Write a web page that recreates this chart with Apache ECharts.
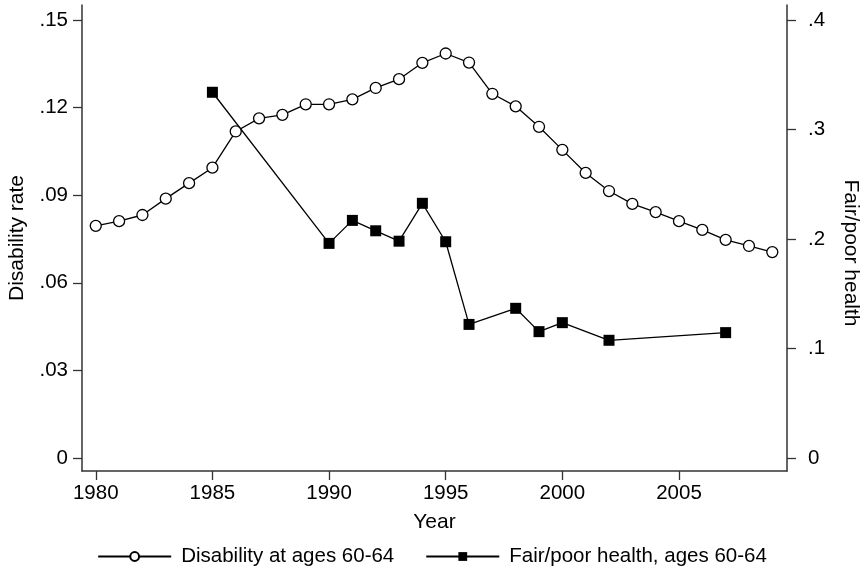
<!DOCTYPE html>
<html>
<head>
<meta charset="utf-8">
<script src="https://cdn.jsdelivr.net/npm/echarts@6/dist/echarts.min.js"></script>
<style>
  html, body { margin: 0; padding: 0; background: #fff; }
  #chart { width: 864px; height: 578px; }
</style>
</head>
<body>
<div id="chart"></div>
<script>
// Disability rate at ages 60-64, yearly 1980-2009 (left axis)
const disabilityYears = [1980, 1981, 1982, 1983, 1984, 1985, 1986, 1987, 1988, 1989,
  1990, 1991, 1992, 1993, 1994, 1995, 1996, 1997, 1998, 1999,
  2000, 2001, 2002, 2003, 2004, 2005, 2006, 2007, 2008, 2009];
const disabilityRate = [0.0795, 0.0811, 0.0832, 0.0888, 0.0941, 0.0994, 0.1118, 0.1163, 0.1175, 0.1211,
  0.1211, 0.1228, 0.1267, 0.1297, 0.1353, 0.1385, 0.1354, 0.1247, 0.1204, 0.1134,
  0.1055, 0.0976, 0.0914, 0.0870, 0.0842, 0.0811, 0.0781, 0.0747, 0.0726, 0.0705];

// Share reporting fair/poor health at ages 60-64, survey years only (right axis)
const healthYears = [1985, 1990, 1991, 1992, 1993, 1994, 1995, 1996, 1998, 1999, 2000, 2002, 2007];
const fairPoorHealth = [0.334, 0.196, 0.217, 0.2075, 0.198, 0.2326, 0.1975, 0.122, 0.1367, 0.1154, 0.1236, 0.1075, 0.1145];

// Tick labels
const xTicks = [1980, 1985, 1990, 1995, 2000, 2005];
const leftTicks = [0, 0.03, 0.06, 0.09, 0.12, 0.15];
const rightTicks = [0, 0.1, 0.2, 0.3, 0.4];

const FONT = 'Liberation Sans, Arial, sans-serif';
const INK = '#000';
const AXIS_INK = '#333';
const TICK_SIZE = 20.5;
const TITLE_SIZE = 21;

const fmtDecimal = v => {
  if (v === 0) return '0';
  let s = String(Math.round(v * 100) / 100);
  return s.replace(/^0\./, '.');
};

const chart = echarts.init(document.getElementById('chart'), null, { renderer: 'canvas' });

chart.setOption({
  animation: false,
  backgroundColor: '#fff',
  textStyle: { fontFamily: FONT, color: INK },
  grid: { left: 82, right: 77, top: 5, bottom: 107, outerBoundsMode: 'none', containLabel: false },
  legend: {
    top: 541,
    left: 'center',
    itemWidth: 73,
    itemHeight: 11,
    itemGap: 31,
    textStyle: { fontFamily: FONT, fontSize: TICK_SIZE, color: INK, padding: [0, 0, 0, 5] },
    data: ['Disability at ages 60-64', 'Fair/poor health, ages 60-64']
  },
  xAxis: {
    type: 'value',
    min: 1979.41,
    max: 2009.63,
    name: 'Year',
    nameLocation: 'middle',
    nameGap: 41,
    nameTextStyle: { fontFamily: FONT, fontSize: TITLE_SIZE, color: INK },
    splitLine: { show: false },
    axisLine: { show: true, onZero: false, lineStyle: { color: AXIS_INK, width: 1.5 } },
    axisTick: { show: true, length: 9, customValues: xTicks, lineStyle: { color: AXIS_INK, width: 1.3 } },
    axisLabel: { customValues: xTicks, margin: 12, fontSize: TICK_SIZE, color: INK, fontFamily: FONT,
      formatter: v => String(Math.round(v)) }
  },
  yAxis: [
    {
      type: 'value',
      position: 'left',
      min: -0.00445,
      max: 0.1551,
      name: 'Disability rate',
      nameLocation: 'middle',
      nameGap: 54,
      nameTextStyle: { fontFamily: FONT, fontSize: TITLE_SIZE, color: INK },
      splitLine: { show: false },
      axisLine: { show: true, onZero: false, lineStyle: { color: AXIS_INK, width: 1.5 } },
      axisTick: { show: true, length: 9, customValues: leftTicks, lineStyle: { color: AXIS_INK, width: 1.3 } },
      axisLabel: { customValues: leftTicks, margin: 14, fontSize: TICK_SIZE, color: INK, fontFamily: FONT,
        formatter: fmtDecimal }
    },
    {
      type: 'value',
      position: 'right',
      min: -0.01187,
      max: 0.4137,
      name: 'Fair/poor health',
      nameLocation: 'middle',
      nameRotate: -90,
      nameGap: 53,
      nameTextStyle: { fontFamily: FONT, fontSize: TITLE_SIZE, color: INK, padding: [0, 0, 0, 30] },
      splitLine: { show: false },
      axisLine: { show: true, onZero: false, lineStyle: { color: AXIS_INK, width: 1.5 } },
      axisTick: { show: true, length: 9, customValues: rightTicks, lineStyle: { color: AXIS_INK, width: 1.3 } },
      axisLabel: { customValues: rightTicks, margin: 21, fontSize: TICK_SIZE, color: INK, fontFamily: FONT,
        formatter: fmtDecimal }
    }
  ],
  series: [
    {
      name: 'Disability at ages 60-64',
      type: 'line',
      yAxisIndex: 0,
      data: disabilityYears.map((yr, i) => [yr, disabilityRate[i]]),
      symbol: 'circle',
      symbolSize: 11,
      showAllSymbol: true,
      lineStyle: { color: INK, width: 1.3 },
      itemStyle: { color: '#fff', borderColor: INK, borderWidth: 1.3 },
      z: 3
    },
    {
      name: 'Fair/poor health, ages 60-64',
      type: 'line',
      yAxisIndex: 1,
      data: healthYears.map((yr, i) => [yr, fairPoorHealth[i]]),
      symbol: 'rect',
      symbolSize: 11,
      showAllSymbol: true,
      lineStyle: { color: INK, width: 1.3 },
      itemStyle: { color: INK, borderColor: INK, borderWidth: 0 },
      z: 2
    }
  ]
});
</script>
</body>
</html>
